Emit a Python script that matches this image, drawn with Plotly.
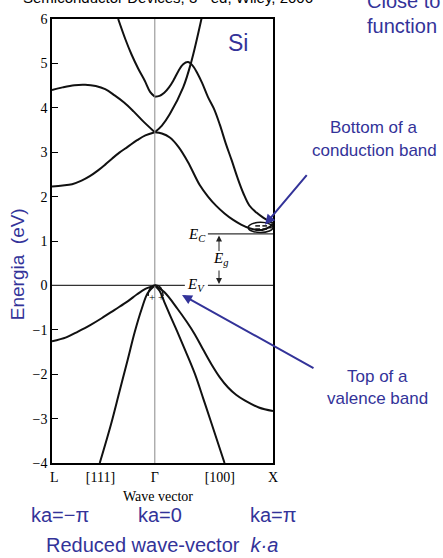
import plotly.graph_objects as go

# ---------------- data ----------------
# wave-vector coordinate: L = -0.87, Gamma = 0, X = 1  ; energy in eV
k_cb_low_L = [-0.87, -0.78, -0.7, -0.62, -0.55, -0.48, -0.42, -0.36, -0.3, -0.23, -0.15, -0.08, 0.0]
E_cb_low_L = [2.23, 2.25, 2.28, 2.36, 2.46, 2.59, 2.72, 2.86, 2.99, 3.12, 3.27, 3.38, 3.45]

k_cb_high_L = [-0.87, -0.78, -0.68, -0.59, -0.5, -0.42, -0.34, -0.26, -0.18, -0.1, 0.0]
E_cb_high_L = [4.40, 4.46, 4.51, 4.52, 4.49, 4.42, 4.28, 4.12, 3.92, 3.70, 3.45]

k_cb_top_L = [-0.31, -0.25, -0.197, -0.14, -0.085, -0.04, 0.0]
E_cb_top_L = [6.0, 5.55, 5.2, 4.88, 4.61, 4.36, 4.25]

k_cb_top_R = [0.0, 0.04, 0.08, 0.12, 0.16, 0.2, 0.24, 0.28, 0.32, 0.36, 0.4, 0.45, 0.5, 0.55, 0.6, 0.65, 0.7, 0.75, 0.8, 0.86, 0.92, 1.0]
E_cb_top_R = [4.25, 4.27, 4.34, 4.46, 4.63, 4.83, 4.98, 5.03, 4.95, 4.78, 4.56, 4.24, 3.98, 3.62, 3.20, 2.82, 2.42, 2.07, 1.80, 1.64, 1.52, 1.40]

k_cb_steep_R = [0.0, 0.06, 0.127, 0.24, 0.31, 0.396]
E_cb_steep_R = [3.45, 3.60, 3.86, 4.46, 5.05, 6.02]

k_cb_low_R = [0.0, 0.06, 0.127, 0.2, 0.28, 0.38, 0.45, 0.52, 0.59, 0.66, 0.73, 0.8, 0.86, 0.91, 0.96, 1.0]
E_cb_low_R = [3.45, 3.42, 3.33, 3.12, 2.78, 2.26, 2.00, 1.79, 1.62, 1.48, 1.37, 1.29, 1.25, 1.25, 1.30, 1.38]

k_v1_L = [-0.87, -0.75, -0.65, -0.55, -0.45, -0.34, -0.23, -0.15, -0.08, 0.0]
E_v1_L = [-1.26, -1.17, -1.04, -0.90, -0.74, -0.55, -0.36, -0.20, -0.08, 0.0]

k_v2_L = [-0.466, -0.37, -0.3, -0.23, -0.17, -0.11, -0.06, 0.0]
E_v2_L = [-4.0, -3.12, -2.4, -1.68, -1.05, -0.52, -0.17, 0.0]

k_v1_R = [0.0, 0.08, 0.19, 0.27, 0.34, 0.41, 0.48, 0.55, 0.62, 0.69, 0.76, 0.88, 1.0]
E_v1_R = [0.0, -0.15, -0.52, -0.82, -1.11, -1.45, -1.78, -2.07, -2.30, -2.47, -2.59, -2.75, -2.83]

k_v2_R = [0.0, 0.04, 0.08, 0.13, 0.19, 0.26, 0.34, 0.41, 0.48, 0.59]
E_v2_R = [0.0, -0.12, -0.37, -0.68, -1.04, -1.48, -2.0, -2.55, -3.11, -4.0]

E_C = 1.16
E_V = 0.0

y_ticks = [-4, -3, -2, -1, 0, 1, 2, 3, 4, 5, 6]
x_tickvals = [-0.85, -0.46, 0.0, 0.55, 1.0]
x_ticktext = ["L", "[111]", "Γ", "[100]", "X"]

# ---------------- layout geometry ----------------
W, H = 443, 558
X0, X1, Y0, Y1 = 52, 273, 14, 463
K_MIN, K_MAX = -0.87, 1.0


def px(x):
    return (x - X0) / (X1 - X0)


def py(y):
    return (Y1 - y) / (Y1 - Y0)


BLUE = "#333399"
SANS = "Liberation Sans, Arial, sans-serif"
SERIF = "Liberation Serif, Times New Roman, serif"

fig = go.Figure()

bands = [
    (k_cb_low_L, E_cb_low_L), (k_cb_high_L, E_cb_high_L), (k_cb_top_L, E_cb_top_L),
    (k_cb_top_R, E_cb_top_R), (k_cb_steep_R, E_cb_steep_R), (k_cb_low_R, E_cb_low_R),
    (k_v1_L, E_v1_L), (k_v2_L, E_v2_L), (k_v1_R, E_v1_R), (k_v2_R, E_v2_R),
]
for kk, ee in bands:
    fig.add_trace(go.Scatter(x=kk, y=ee, mode="lines",
                             line=dict(color="#111111", width=2, shape="spline", smoothing=1.0),
                             hoverinfo="skip", showlegend=False, cliponaxis=True))

shapes = []
# Gamma vertical line
shapes.append(dict(type="line", xref="x", yref="y", x0=0, x1=0, y0=-4, y1=6,
                   line=dict(color="#888888", width=1)))
# E_V line (with gap for label)
kgap0 = (185 - 155) / 118
kgap1 = (208 - 155) / 118
shapes.append(dict(type="line", xref="x", yref="y", x0=K_MIN, x1=kgap0, y0=E_V, y1=E_V,
                   line=dict(color="#333333", width=1.2)))
shapes.append(dict(type="line", xref="x", yref="y", x0=kgap1, x1=K_MAX, y0=E_V, y1=E_V,
                   line=dict(color="#333333", width=1.2)))
# E_C line
shapes.append(dict(type="line", xref="x", yref="y", x0=kgap1, x1=K_MAX, y0=E_C, y1=E_C,
                   line=dict(color="#333333", width=1.2)))
# hole cap at Gamma
shapes.append(dict(type="path", xref="x", yref="y",
                   path="M -0.057,-0.24 C -0.057,0.09 0.07,0.09 0.07,-0.24",
                   line=dict(color="#111111", width=1.5)))
# electron pocket near X
shapes.append(dict(type="circle", xref="x", yref="y", x0=0.79, x1=1.0, y0=1.19, y1=1.42,
                   line=dict(color="#111111", width=1.5)))
for (a, b, e) in [(0.85, 0.89, 1.34), (0.91, 0.95, 1.34), (0.85, 0.89, 1.27), (0.91, 0.95, 1.27), (0.96, 0.99, 1.30)]:
    shapes.append(dict(type="line", xref="x", yref="y", x0=a, x1=b, y0=e, y1=e,
                       line=dict(color="#111111", width=1.5)))

annotations = []


def txt(text, x, y, size, color="black", family=SANS, xanchor="center", yanchor="middle", angle=0):
    annotations.append(dict(text=text, x=px(x), y=py(y), xref="paper", yref="paper",
                            showarrow=False, font=dict(size=size, color=color, family=family),
                            xanchor=xanchor, yanchor=yanchor, textangle=angle))


def arrow(x_tip, y_tip, x_tail, y_tail, color, width, head=2, size=1.0):
    annotations.append(dict(text="", x=px(x_tip), y=py(y_tip), xref="paper", yref="paper",
                            ax=x_tail - x_tip, ay=y_tail - y_tip, axref="pixel", ayref="pixel",
                            showarrow=True, arrowhead=head, arrowsize=size, arrowwidth=width,
                            arrowcolor=color))


txt("Semiconductor Devices, 3<sup>rd</sup> ed, Wiley, 2006", 168, -9, 15)
txt("Close to", 365, -4, 20, BLUE, xanchor="left")
txt("function", 365, 21, 20, BLUE, xanchor="left")
txt("Si", 238, 38, 23, BLUE)
txt("Energia  (eV)", 17, 262, 19, BLUE, angle=-90)
txt("Bottom of a", 373, 124, 17, BLUE)
txt("conduction band", 374, 147, 17, BLUE)
txt("Top of a", 377, 376, 17, BLUE)
txt("valence band", 377, 398, 17, BLUE)
txt("Wave vector", 158, 497, 14, family=SERIF)
txt("ka=−π", 60, 516, 20, BLUE)
txt("ka=0", 160, 516, 20, BLUE)
txt("ka=π", 273, 516, 20, BLUE)
txt("Reduced wave-vector  <i>k·a</i>", 162, 546, 20, BLUE)
txt("<i>E<sub>C</sub></i>", 197, 232, 15, family=SERIF)
txt("<i>E<sub>V</sub></i>", 196, 283, 15, family=SERIF)
txt("<i>E<sub>g</sub></i>", 220, 257, 15, family=SERIF)
txt("+ +", 156, 295, 11, family=SERIF)

# Eg arrows
arrow(219, 233, 219, 250, "#222222", 1, head=2, size=1.2)
arrow(219, 282, 219, 267, "#222222", 1, head=2, size=1.2)
# blue pointer arrows
arrow(265, 222, 308, 171, BLUE, 2, head=2, size=1.0)
arrow(182, 293, 315, 367, BLUE, 2, head=2, size=1.0)

fig.update_layout(
    width=W, height=H,
    margin=dict(l=X0, r=W - X1, t=Y0, b=H - Y1, pad=0),
    paper_bgcolor="white", plot_bgcolor="white",
    shapes=shapes, annotations=annotations,
    showlegend=False,
    xaxis=dict(range=[K_MIN, K_MAX], showgrid=False, zeroline=False,
               showline=True, mirror=True, linecolor="black", linewidth=1.5,
               tickmode="array", tickvals=x_tickvals, ticktext=x_ticktext, ticks="",
               tickfont=dict(family=SERIF, size=14, color="black")),
    yaxis=dict(range=[-4, 6], showgrid=False, zeroline=False,
               showline=True, mirror=True, linecolor="black", linewidth=1.5,
               tickmode="array", tickvals=y_ticks, ticks="inside", ticklen=6, tickwidth=1,
               tickcolor="black",
               tickfont=dict(family=SERIF, size=14, color="black")),
)

fig.write_html("out.html")
